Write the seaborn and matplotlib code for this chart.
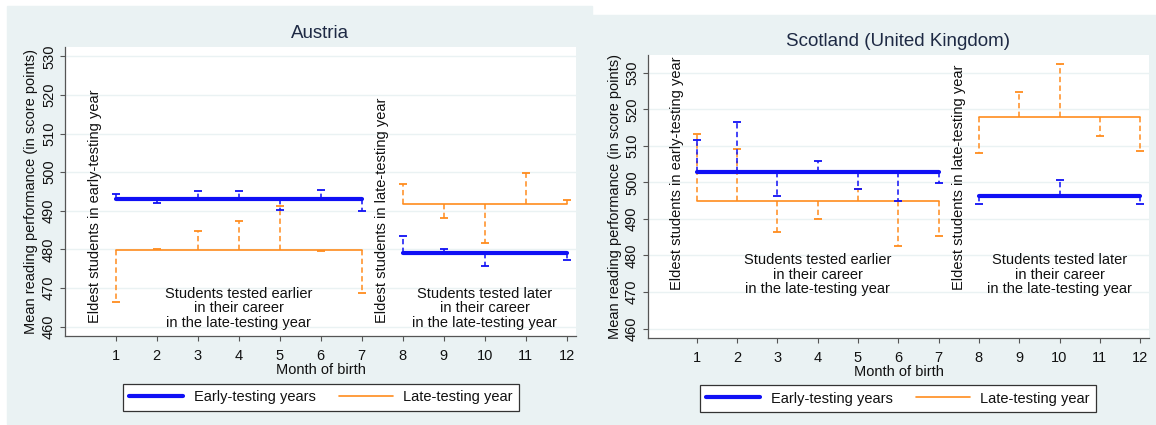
import numpy as np
import pandas as pd
import seaborn as sns
import matplotlib.pyplot as plt
from matplotlib.lines import Line2D
from matplotlib.patches import Rectangle

# months of birth, split in the two testing groups
months_first = [1, 2, 3, 4, 5, 6, 7]
months_second = [8, 9, 10, 11, 12]

# Austria: group level (1-7, 8-12) and month means
aut_early_levels = [493.1, 479.0]
aut_early_means = [494.3, 491.9, 495.2, 495.1, 490.3, 495.3, 489.9,
                   483.6, 480.0, 475.6, 478.8, 477.2]
aut_late_levels = [479.9, 491.8]
aut_late_means = [466.5, 480.2, 484.8, 487.3, 491.3, 479.5, 468.6,
                  497.0, 488.2, 481.6, 499.7, 492.8]

# Scotland (United Kingdom)
sco_early_levels = [502.8, 496.2]
sco_early_means = [511.7, 516.6, 496.2, 506.0, 498.3, 494.8, 499.8,
                   494.1, 496.2, 500.7, 496.2, 494.2]
sco_late_levels = [494.8, 517.8]
sco_late_means = [513.2, 509.2, 486.4, 490.0, 498.2, 482.5, 485.4,
                  508.1, 524.9, 532.5, 512.8, 508.6]

y_ticks = [460, 470, 480, 490, 500, 510, 520, 530]
series_names = ['Early-testing years', 'Late-testing year']

BLUE = '#1010F5'
ORANGE = '#FF8C1E'
BG = '#EAF2F3'
TXT = '#111111'

sns.set_theme(style='white')
plt.rcParams['font.family'] = ['Liberation Sans', 'DejaVu Sans']

W, H = 1156, 425
fig = plt.figure(figsize=(W / 100, H / 100), dpi=100)
fig.patch.set_facecolor('white')


def px_box(x0, y0, x1, y1):
    return [x0 / W, 1 - y1 / H, (x1 - x0) / W, (y1 - y0) / H]


def make_frame(levels, means, series):
    rows = []
    for seg, months in enumerate([months_first, months_second]):
        for m in months:
            rows.append({'month': m, 'level': levels[seg], 'mean': means[m - 1],
                         'segment': seg, 'series': series})
    return pd.DataFrame(rows)


def draw_panel(ax, early_levels, early_means, late_levels, late_means,
               xlim, ylim, side_y, block_y):
    early = make_frame(early_levels, early_means, series_names[0])
    late = make_frame(late_levels, late_means, series_names[1])

    ax.set_facecolor('white')
    for t in y_ticks:
        ax.axhline(t, color=BG, lw=1.0, zorder=0)

    for df, color, lw, z in [(late, ORANGE, 1.2, 3), (early, BLUE, 3.0, 4)]:
        ax.vlines(df['month'], df['level'], df['mean'], colors=color,
                  linestyles=(0, (3.5, 2.2)), lw=1.1, zorder=z - 1)
        ax.plot(df['month'], df['mean'], ls='none', marker='_', ms=6,
                mew=1.3, color=color, zorder=z - 1)
        for seg, d in df.groupby('segment'):
            sns.lineplot(data=d, x='month', y='level', color=color, lw=lw,
                         ax=ax, zorder=z, legend=False)

    ax.set_xlim(*xlim)
    ax.set_ylim(*ylim)
    ax.set_xticks(months_first + months_second)
    ax.set_yticks(y_ticks)
    ax.tick_params(axis='both', which='both', direction='out', length=3.5,
                   width=0.8, color='#555555', labelsize=10.5, labelcolor=TXT,
                   bottom=True, left=True)
    ax.tick_params(axis='x', pad=5.5)
    ax.tick_params(axis='y', pad=3)
    for lab in ax.get_yticklabels():
        lab.set_rotation(90)
        lab.set_va('center')
    for s in ['top', 'right']:
        ax.spines[s].set_visible(False)
    for s in ['left', 'bottom']:
        ax.spines[s].set_color('#555555')
        ax.spines[s].set_linewidth(0.9)
    ax.set_xlabel('Month of birth', fontsize=10.5, color=TXT, labelpad=0)
    ax.set_ylabel('')

    ax.text(0.5, side_y, 'Eldest students in early-testing year', rotation=90,
            ha='center', va='bottom', fontsize=10.5, color=TXT)
    ax.text(7.5, side_y, 'Eldest students in late-testing year', rotation=90,
            ha='center', va='bottom', fontsize=10.5, color=TXT)
    ax.text(4, block_y, 'Students tested earlier\nin their career\nin the late-testing year',
            ha='center', va='center', fontsize=10.5, color=TXT, linespacing=1.05)
    ax.text(10, block_y, 'Students tested later\nin their career\nin the late-testing year',
            ha='center', va='center', fontsize=10.5, color=TXT, linespacing=1.05)


# panel backgrounds
fig.patches.append(Rectangle((7 / W, 1 - 424 / H), 585 / W, 418 / H,
                             transform=fig.transFigure, color=BG, zorder=-5))
fig.patches.append(Rectangle((592 / W, 1 - 424 / H), 564 / W, 409 / H,
                             transform=fig.transFigure, color=BG, zorder=-5))

ax1 = fig.add_axes(px_box(65, 47, 576, 336))
ax1.set_zorder(2)
draw_panel(ax1, aut_early_levels, aut_early_means, aut_late_levels, aut_late_means,
           (-0.24, 12.23), (457.6, 532.4), 461, 464.8)

ax2 = fig.add_axes(px_box(648, 55, 1149, 338))
ax2.set_zorder(2)
draw_panel(ax2, sco_early_levels, sco_early_means, sco_late_levels, sco_late_means,
           (-0.21, 12.22), (457.4, 534.9), 470.5, 474.7)

fig.text(320 / W, 1 - 33 / H, 'Austria', ha='center', va='center',
         fontsize=13.5, color='#1E2A44')
fig.text(898 / W, 1 - 42 / H, 'Scotland (United Kingdom)', ha='center', va='center',
         fontsize=13.5, color='#1E2A44')
fig.text(31 / W, 1 - 191.5 / H, 'Mean reading performance (in score points)',
         rotation=90, ha='center', va='center', fontsize=10.5, color=TXT)
fig.text(615 / W, 1 - 196.5 / H, 'Mean reading performance (in score points)',
         rotation=90, ha='center', va='center', fontsize=10.5, color=TXT)

handles = [Line2D([], [], color=BLUE, lw=3.0), Line2D([], [], color=ORANGE, lw=1.2)]
for cx, cy in [(321, 397.5), (898, 398.5)]:
    leg = fig.legend(handles, series_names, loc='center', ncol=2,
                     bbox_to_anchor=(cx / W, 1 - cy / H), fontsize=10.5,
                     frameon=True, fancybox=False, edgecolor='#333333',
                     facecolor='white', framealpha=1.0,
                     handlelength=3.7, handletextpad=0.7, columnspacing=1.6,
                     borderpad=0.45, borderaxespad=0)
    leg.get_frame().set_linewidth(0.9)
    for t in leg.get_texts():
        t.set_color(TXT)

fig.savefig('out.png', dpi=100, facecolor='white')
